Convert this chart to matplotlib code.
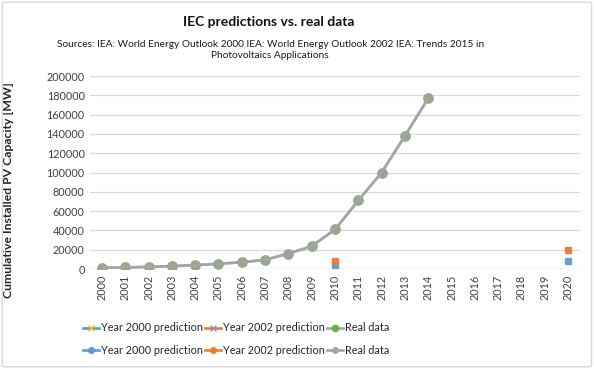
import numpy as np
import matplotlib
matplotlib.use("Agg")
import matplotlib.pyplot as plt
from matplotlib.lines import Line2D
from matplotlib.patches import FancyBboxPatch

plt.rcParams['font.family'] = ['Lato', 'DejaVu Sans']

years = [str(y) for y in range(2000, 2021)]
real_data = [1250, 1600, 2200, 3000, 4000, 5400, 7000, 9500, 16000, 23500,
             41000, 71000, 100000, 138000, 177000] + [np.nan] * 6
pred_2000 = [np.nan] * 10 + [4500] + [np.nan] * 9 + [8500]
pred_2002 = [np.nan] * 10 + [8500] + [np.nan] * 9 + [20000]
yticks = list(range(0, 200001, 20000))

title = "IEC predictions vs. real data"
subtitle = ("Sources: IEA: World Energy Outlook 2000 IEA: World Energy Outlook 2002 IEA: Trends 2015 in\n"
            "Photovoltaics Applications")
ylabel = "Cumulative Installed PV Capacity [MW]"

C_BLUE = '#5B9BD5'
C_ORANGE = '#ED7D31'
C_GRAY = '#A5A5A5'
C_GREEN = '#70AD47'
C_YELLOW = '#FFC000'
C_PURPLE = '#8E8EC0'

fig = plt.figure(figsize=(5.94, 3.69), dpi=100)
fig.patch.set_facecolor('white')
fig.patches.append(FancyBboxPatch((0.004, 0.006), 0.992, 0.988,
                                  boxstyle="round,pad=0,rounding_size=0.004",
                                  transform=fig.transFigure, fill=False,
                                  edgecolor='#D9D9D9', linewidth=1.0))

ax = fig.add_axes([0.152, 0.271, 0.824, 0.523])
x = np.arange(len(years))

# first set (underneath)
ax.plot(x, real_data, color=C_GRAY, lw=1.9, marker='o', ms=6.5,
        mfc=C_GREEN, mec=C_GREEN, zorder=3)
ax.plot(x, pred_2000, color=C_BLUE, lw=1.9, marker='x', ms=5,
        mec=C_YELLOW, zorder=3, linestyle='none')
ax.plot(x, pred_2002, color=C_ORANGE, lw=1.9, marker='x', ms=5,
        mec=C_PURPLE, zorder=3, linestyle='none')
# second set (on top)
ax.plot(x, real_data, color=C_GRAY, lw=1.9, marker='o', ms=6.5,
        mfc=C_GRAY, mec=C_GRAY, alpha=0.75, zorder=4)
ax.plot(x, pred_2000, color=C_BLUE, marker='s', ms=4.2, mfc=C_BLUE,
        mec=C_BLUE, linestyle='none', alpha=0.9, zorder=4)
ax.plot(x, pred_2002, color=C_ORANGE, marker='s', ms=4.2, mfc=C_ORANGE,
        mec=C_ORANGE, linestyle='none', alpha=0.9, zorder=4)

ax.set_xlim(-0.5, len(years) - 0.5)
ax.set_ylim(0, 200000)
ax.set_yticks(yticks)
ax.set_yticklabels([str(v) for v in yticks], fontsize=7.8, color='#404040')
ax.set_xticks(x)
ax.set_xticklabels(years, rotation=90, fontsize=7.8, color='#404040')
ax.tick_params(axis='both', length=0, pad=4)
ax.grid(axis='y', color='#D9D9D9', lw=0.9)
ax.set_axisbelow(True)
for s in ax.spines.values():
    s.set_visible(False)
ax.axhline(0, color='#D9D9D9', lw=0.9, zorder=1)

ax.set_ylabel(ylabel, fontsize=8.8, fontweight='bold', color='#262626')
ax.yaxis.set_label_coords(-0.156, 0.41)

fig.text(0.453, 1 - 22 / 369, title, ha='center', va='center', fontsize=10,
         fontweight='bold', color='#111111')
fig.text(0.455, 0.865, subtitle, ha='center', va='center', fontsize=7.3,
         color='#1a1a1a', linespacing=1.3)

def handle(color, marker, mcolor, ms):
    return Line2D([0], [0], color=color, lw=1.9, marker=marker, ms=ms,
                  mfc=mcolor, mec=mcolor)

h1 = handle(C_BLUE, 'x', C_YELLOW, 4.5)
h2 = handle(C_ORANGE, 'x', C_PURPLE, 4.5)
h3 = handle(C_GRAY, 'o', C_GREEN, 4.5)
h4 = handle(C_BLUE, 'o', C_BLUE, 4)
h5 = handle(C_ORANGE, 'o', C_ORANGE, 4)
h6 = handle(C_GRAY, 'o', C_GRAY, 4)
labels = ["Year 2000 prediction", "Year 2000 prediction",
          "Year 2002 prediction", "Year 2002 prediction",
          "Real data", "Real data"]
fig.legend([h1, h4, h2, h5, h3, h6], labels, ncol=3, loc='center',
           bbox_to_anchor=(236 / 594, 1 - 339 / 369), frameon=False,
           fontsize=7.8, handlelength=1.5, handletextpad=0.15,
           columnspacing=0.2, labelspacing=1.05, labelcolor='#262626')

fig.savefig("out.png", dpi=100, facecolor='white')
